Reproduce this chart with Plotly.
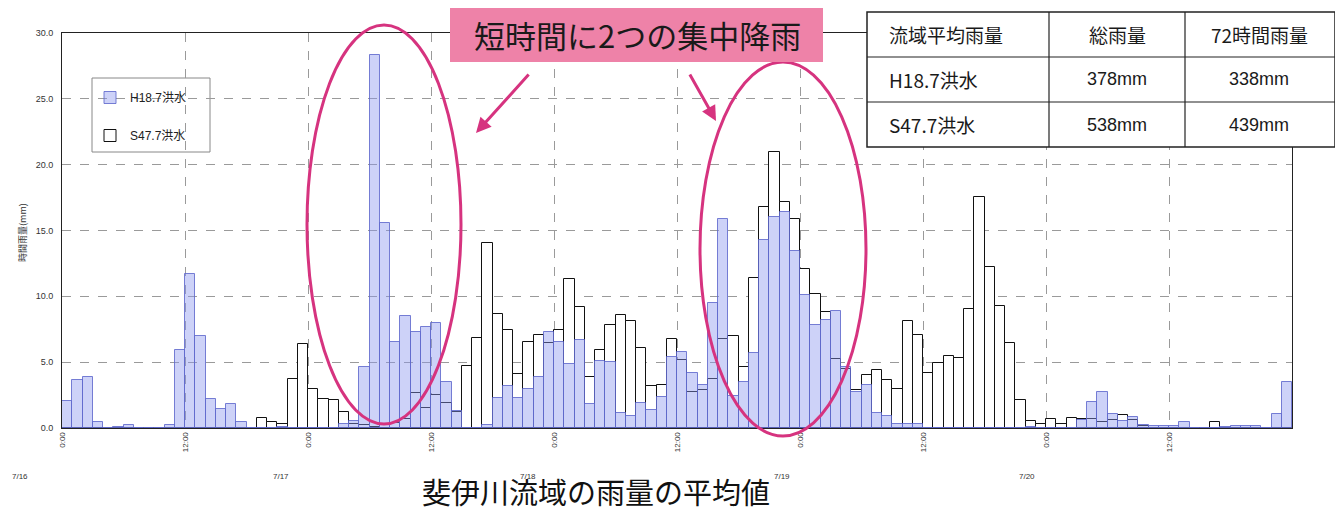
import plotly.graph_objects as go

# ---------------- data (hourly basin-average rainfall, mm/h) ----------------
# hour index 0 = 7/16 0:00 ... 119 = 7/20 23:00
hours = list(range(120))

h18_rain = [
    2.05, 3.65, 3.87, 0.43, 0.0, 0.05, 0.2, 0.0, 0.0, 0.0,
    0.25, 5.95, 11.7, 6.96, 2.2, 1.44, 1.85, 0.46, 0.0, 0.0,
    0.0, 0.1, 0.0, 0.0, 0.0, 0.0, 0.0, 0.3, 0.5, 4.62,
    28.3, 15.6, 6.5, 8.5, 7.27, 7.68, 8.0, 3.5, 1.3, 0.0,
    0.0, 0.25, 2.27, 3.16, 2.25, 2.98, 3.91, 7.27, 6.52, 4.85,
    6.72, 1.84, 5.08, 5.03, 1.14, 0.93, 1.9, 1.39, 2.32, 5.43,
    5.8, 4.2, 3.26, 9.5, 15.9, 2.44, 3.5, 5.72, 14.3, 16.0,
    16.4, 13.45, 10.08, 7.8, 8.2, 8.87, 4.6, 2.72, 3.3, 1.13,
    0.93, 0.3, 0.33, 0.33, 0.0, 0.0, 0.0, 0.0, 0.0, 0.0,
    0.0, 0.0, 0.0, 0.0, 0.1, 0.0, 0.0, 0.0, 0.0, 0.63,
    1.94, 2.72, 1.06, 0.55, 0.8, 0.25, 0.18, 0.18, 0.18, 0.43,
    0.0, 0.0, 0.0, 0.05, 0.18, 0.18, 0.15, 0.0, 1.08, 3.48,
]

s47_rain = [
    0.0, 0.0, 0.0, 0.0, 0.0, 0.0, 0.0, 0.0, 0.0, 0.0,
    0.0, 0.0, 0.0, 0.0, 0.0, 0.0, 0.0, 0.0, 0.0, 0.76,
    0.46, 0.33, 3.75, 6.38, 2.94, 2.2, 2.12, 1.2, 0.3, 0.2,
    0.1, 0.3, 0.4, 0.7, 2.65, 1.5, 2.5, 1.9, 1.2, 4.7,
    6.8, 14.05, 8.66, 7.42, 4.07, 6.57, 7.07, 6.44, 7.42, 11.3,
    9.17, 3.86, 5.93, 7.8, 8.6, 8.1, 6.1, 3.16, 3.23, 6.74,
    5.18, 2.73, 2.9, 3.7, 6.77, 7.0, 4.63, 11.4, 16.8, 21.0,
    17.2, 15.9, 12.1, 10.2, 8.8, 5.24, 4.46, 2.9, 4.03, 4.4,
    3.65, 3.0, 8.1, 7.05, 4.2, 4.96, 5.5, 5.34, 9.04, 17.56,
    12.2, 9.3, 6.45, 2.14, 0.5, 0.3, 0.65, 0.3, 0.73, 0.68,
    0.68, 0.43, 0.63, 0.98, 0.63, 0.18, 0.0, 0.0, 0.0, 0.0,
    0.0, 0.0, 0.48, 0.0, 0.0, 0.0, 0.0, 0.0, 0.0, 0.0,
]

series_names = ["H18.7洪水", "S47.7洪水"]

x_tick_hours = [0, 12, 24, 36, 48, 60, 72, 84, 96, 108]
x_tick_text = ["0:00", "12:00"] * 5
date_labels = ["7/16", "7/17", "7/18", "7/19", "7/20"]
y_tick_vals = [0, 5, 10, 15, 20, 25, 30]
y_tick_text = ["0.0", "5.0", "10.0", "15.0", "20.0", "25.0", "30.0"]

table_header = ["流域平均雨量", "総雨量", "72時間雨量"]
table_rows = [["H18.7洪水", "378mm", "338mm"],
              ["S47.7洪水", "538mm", "439mm"]]

callout_text = "短時間に2つの集中降雨"
title_text = "斐伊川流域の雨量の平均値"
y_title = "時間雨量(mm)"

# ---------------- layout geometry ----------------
# the page body has an 8px margin, so the figure is placed at (8, 8)
OFF = 8
W, H = 1343 - OFF, 511 - OFF
L, R, T, B = 62, 1292, 33, 428      # plot area in page pixels

def px(x):
    return (x - L) / (R - L)

def py(y):
    return (B - y) / (B - T)

FONT = "Liberation Sans, Arial, Noto Sans CJK JP, sans-serif"
JFONT = "Noto Sans CJK JP, sans-serif"
MAG = "#d6337f"

fig = go.Figure()

fig.add_trace(go.Bar(
    x=[h + 0.5 for h in hours], y=s47_rain, width=1,
    name=series_names[1], legendgroup="s47", legendrank=2,
    marker=dict(color="white", line=dict(color="#111111", width=1)),
))
fig.add_trace(go.Bar(
    x=[h + 0.5 for h in hours], y=h18_rain, width=1,
    name=series_names[0], legendgroup="h18", legendrank=1,
    marker=dict(color="rgba(140,150,238,0.43)",
                line=dict(color="rgba(95,105,205,0.85)", width=1)),
))

shapes = []
annotations = []

# legend frame
shapes.append(dict(type="rect", xref="paper", yref="paper", layer="below",
                   x0=px(92), x1=px(210), y0=py(152), y1=py(78),
                   fillcolor="white", line=dict(color="#888", width=1)))

# ellipses
shapes.append(dict(type="circle", xref="paper", yref="paper",
                   x0=px(307), x1=px(461), y0=py(424), y1=py(25),
                   line=dict(color=MAG, width=3)))
shapes.append(dict(type="circle", xref="paper", yref="paper",
                   x0=px(700), x1=px(866), y0=py(436), y1=py(62),
                   line=dict(color=MAG, width=3)))

# callout box
shapes.append(dict(type="rect", xref="paper", yref="paper",
                   x0=px(450), x1=px(823), y0=py(62), y1=py(6),
                   fillcolor="#ee82a8", line=dict(width=0)))
annotations.append(dict(xref="paper", yref="paper", x=px(637), y=py(34),
                        text=callout_text, showarrow=False,
                        font=dict(family=JFONT, size=31, color="#1a1a1a"),
                        xanchor="center", yanchor="middle"))

# arrows
annotations.append(dict(xref="paper", yref="paper", x=px(476), y=py(133),
                        ax=54, ay=-60, text="", showarrow=True,
                        arrowhead=2, arrowsize=1, arrowwidth=3, arrowcolor=MAG))
annotations.append(dict(xref="paper", yref="paper", x=px(716), y=py(121),
                        ax=-27, ay=-48, text="", showarrow=True,
                        arrowhead=2, arrowsize=1, arrowwidth=3, arrowcolor=MAG))

# table
col_x = [867, 1049, 1185, 1335]
row_y = [12, 57, 102, 147]
shapes.append(dict(type="rect", xref="paper", yref="paper",
                   x0=px(col_x[0]), x1=px(col_x[-1]), y0=py(row_y[-1]), y1=py(row_y[0]),
                   fillcolor="white", line=dict(color="#222222", width=1.5)))
for cx in col_x[1:-1]:
    shapes.append(dict(type="line", xref="paper", yref="paper",
                       x0=px(cx), x1=px(cx), y0=py(row_y[-1]), y1=py(row_y[0]),
                       line=dict(color="#222222", width=1.2)))
for ry in row_y[1:-1]:
    shapes.append(dict(type="line", xref="paper", yref="paper",
                       x0=px(col_x[0]), x1=px(col_x[-1]), y0=py(ry), y1=py(ry),
                       line=dict(color="#222222", width=1.2)))

rows_all = [table_header] + table_rows
centers_x = [887, 1117, 1259]
for ri, row in enumerate(rows_all):
    yc = (row_y[ri] + row_y[ri + 1]) / 2
    for ci, txt in enumerate(row):
        is_num = txt.endswith("mm")
        annotations.append(dict(
            xref="paper", yref="paper", x=px(centers_x[ci]), y=py(yc),
            text=txt, showarrow=False,
            xanchor="left" if ci == 0 else "center", yanchor="middle",
            font=dict(family=FONT if is_num else JFONT, size=18 if is_num else 19,
                      color="#1a1a1a")))

# date labels under the axis
date_px = [20, 281, 528, 782, 1027]
for d, xp in zip(date_labels, date_px):
    annotations.append(dict(xref="paper", yref="paper", x=px(xp), y=py(476),
                            text=d, showarrow=False, xanchor="center", yanchor="middle",
                            font=dict(family=FONT, size=8, color="#333")))

# y axis title
annotations.append(dict(xref="paper", yref="paper", x=px(22), y=py(232),
                        text=y_title, showarrow=False, textangle=-90,
                        xanchor="center", yanchor="middle",
                        font=dict(family=JFONT, size=9, color="#333")))

# chart title at the bottom
annotations.append(dict(xref="paper", yref="paper", x=px(596), y=py(491),
                        text=title_text, showarrow=False,
                        xanchor="center", yanchor="middle",
                        font=dict(family=JFONT, size=29, color="#111")))

fig.update_layout(
    width=W, height=H,
    margin=dict(l=L - OFF, r=(W + OFF) - R, t=T - OFF, b=(H + OFF) - B, pad=0),
    barmode="overlay", bargap=0,
    paper_bgcolor="white", plot_bgcolor="white",
    font=dict(family=FONT, size=9, color="#333"),
    showlegend=True,
    legend=dict(x=px(90), y=py(83), xanchor="left", yanchor="top",
                traceorder="grouped", tracegroupgap=19,
                bgcolor="rgba(0,0,0,0)", borderwidth=0,
                font=dict(family=FONT, size=12, color="#222")),
    xaxis=dict(range=[0, 120], tickmode="array", tickvals=x_tick_hours,
               ticktext=x_tick_text, tickangle=-90, tickfont=dict(size=8),
               showgrid=True, gridcolor="#9a9a9a", griddash="dash", gridwidth=1,
               showline=True, linecolor="#222", linewidth=1, mirror=True,
               ticks="", zeroline=False, fixedrange=True),
    yaxis=dict(range=[0, 30], tickmode="array", tickvals=y_tick_vals,
               ticktext=y_tick_text, tickfont=dict(size=9),
               showgrid=True, gridcolor="#9a9a9a", griddash="dash", gridwidth=1,
               showline=True, linecolor="#222", linewidth=1, mirror=True,
               ticks="", zeroline=False, ticklabelstandoff=6, fixedrange=True),
    shapes=shapes, annotations=annotations,
)

fig.write_html("out.html")
